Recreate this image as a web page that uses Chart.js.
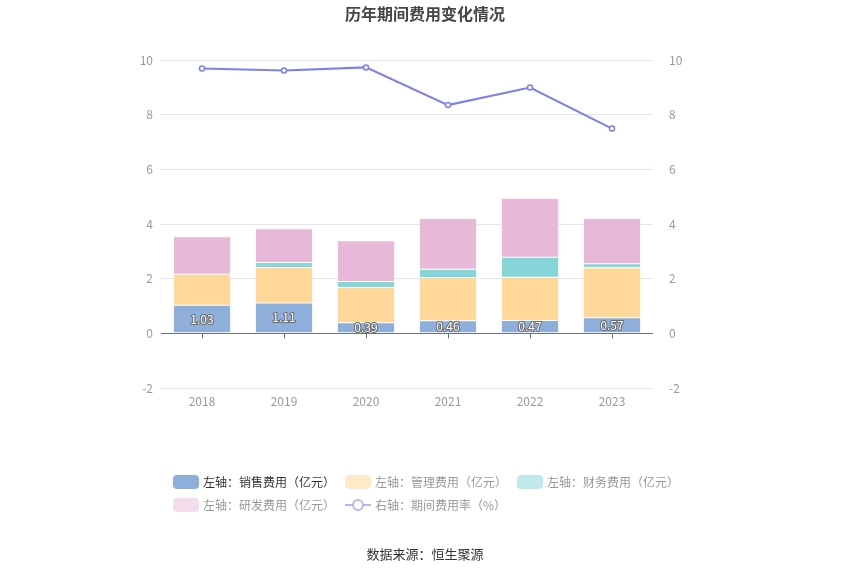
<!DOCTYPE html>
<html>
<head>
<meta charset="utf-8">
<script src="https://cdn.jsdelivr.net/npm/chart.js@4.4.1/dist/chart.umd.min.js"></script>
<style>
  html, body { margin: 0; padding: 0; background: #fff; }
  body { width: 850px; height: 575px; position: relative; overflow: hidden;
         font-family: 'Noto Sans CJK SC', 'Noto Sans', sans-serif; }
  #wrap { position: absolute; left: 0; top: 0; width: 850px; height: 575px; }
  #title { position: absolute; left: 0; width: 850px; top: 1px; text-align: center;
           font-size: 16px; font-weight: bold; color: #464646; }
  #source { position: absolute; left: 0; width: 850px; top: 544px; text-align: center;
            font-size: 13px; color: #333; }
  .lg { position: absolute; font-size: 12px; color: #999; line-height: 14px; white-space: nowrap; }
  .lg .box { display: inline-block; width: 26px; height: 14px; border-radius: 4px;
             vertical-align: top; margin-right: 4px; }
  .lg svg { vertical-align: top; margin-right: 4px; }
</style>
</head>
<body>
<div id="wrap"><canvas id="chart" width="850" height="575"></canvas></div>
<div id="title">历年期间费用变化情况</div>
<div id="legend"></div>
<div id="source">数据来源：恒生聚源</div>
<script>
// values
const YEARS = ['2018', '2019', '2020', '2021', '2022', '2023'];
const SALES = [1.03, 1.11, 0.39, 0.46, 0.47, 0.57];      // 销售费用 (亿元)
const ADMIN = [1.13, 1.30, 1.29, 1.57, 1.58, 1.83];      // 管理费用 (亿元)
const FINANCE = [-0.05, 0.18, 0.22, 0.31, 0.73, 0.15];   // 财务费用 (亿元)
const RND = [1.37, 1.24, 1.49, 1.86, 2.16, 1.65];        // 研发费用 (亿元)
const RATE = [9.69, 9.62, 9.73, 8.35, 8.99, 7.49];       // 期间费用率 (%)
const AXIS_TICKS = [-2, 0, 2, 4, 6, 8, 10];

const COLORS = {
  sales: '#8eaedc',
  admin: '#ffd899',
  finance: '#86d5d8',
  rnd: '#e7b8d8',
  rate: '#7b7ff0',
};

const FONT = "'Noto Sans CJK SC', 'Noto Sans', sans-serif";

// html legend, two rows like the original
const LEGEND = [
  { text: '左轴：销售费用（亿元）', color: '#8eaedc', textColor: '#333', x: 173, y: 475 },
  { text: '左轴：管理费用（亿元）', color: '#fee9c9', textColor: '#999', x: 345, y: 475 },
  { text: '左轴：财务费用（亿元）', color: '#c1e9eb', textColor: '#999', x: 517, y: 475 },
  { text: '左轴：研发费用（亿元）', color: '#f3dcec', textColor: '#999', x: 173, y: 498 },
  { text: '右轴：期间费用率（%）', line: '#b5b7f6', textColor: '#999', x: 345, y: 498 },
];
const legendEl = document.getElementById('legend');
LEGEND.forEach(item => {
  const d = document.createElement('div');
  d.className = 'lg';
  d.style.left = item.x + 'px';
  d.style.top = item.y + 'px';
  d.style.color = item.textColor;
  const icon = item.line
    ? `<svg width="26" height="14"><line x1="0" y1="7" x2="26" y2="7" stroke="${item.line}" stroke-width="2"/><circle cx="13" cy="7" r="5" fill="#fff" stroke="${item.line}" stroke-width="2"/></svg>`
    : `<span class="box" style="background:${item.color}"></span>`;
  d.innerHTML = icon + item.text;
  legendEl.appendChild(d);
});

// zero axis line ticks + value labels on the sales bars
const extras = {
  id: 'extras',
  afterDatasetsDraw(chart) {
    const { ctx, scales } = chart;
    const y0 = scales.y.getPixelForValue(0);
    ctx.save();
    ctx.strokeStyle = '#6e7079';
    ctx.lineWidth = 1;
    YEARS.forEach((_, i) => {
      const x = Math.round(scales.x.getPixelForValue(i)) + 0.5;
      ctx.beginPath();
      ctx.moveTo(x, y0);
      ctx.lineTo(x, y0 + 5);
      ctx.stroke();
    });
    const meta = chart.getDatasetMeta(0);
    ctx.font = '12px ' + FONT;
    ctx.textAlign = 'center';
    ctx.textBaseline = 'middle';
    ctx.lineJoin = 'round';
    meta.data.forEach((bar, i) => {
      const cy = (bar.y + bar.base) / 2;
      ctx.strokeStyle = '#6a6a6a';
      ctx.lineWidth = 2;
      ctx.strokeText(SALES[i].toFixed(2), bar.x, cy);
      ctx.fillStyle = '#fff';
      ctx.fillText(SALES[i].toFixed(2), bar.x, cy);
    });
    ctx.restore();
  }
};

const barDefaults = {
  type: 'bar',
  yAxisID: 'y',
  borderWidth: 0.5,
  borderColor: 'rgba(255,255,255,0.5)',
  borderSkipped: false,
  categoryPercentage: 0.7,
  barPercentage: 1,
  order: 2,
};

new Chart(document.getElementById('chart'), {
  data: {
    labels: YEARS,
    datasets: [
      { ...barDefaults, label: '销售费用', data: SALES, backgroundColor: COLORS.sales },
      { ...barDefaults, label: '管理费用', data: ADMIN, backgroundColor: COLORS.admin },
      { ...barDefaults, label: '财务费用', data: FINANCE, backgroundColor: COLORS.finance },
      { ...barDefaults, label: '研发费用', data: RND, backgroundColor: COLORS.rnd },
      {
        type: 'line',
        label: '期间费用率',
        data: RATE,
        yAxisID: 'y1',
        borderColor: COLORS.rate,
        borderWidth: 2,
        pointRadius: 2.5,
        pointBorderWidth: 1.5,
        pointBackgroundColor: '#fff',
        pointBorderColor: COLORS.rate,
        tension: 0,
        order: 1,
      },
    ]
  },
  options: {
    responsive: false,
    animation: false,
    layout: { padding: { top: 60, left: 0, right: 0, bottom: 0 } },
    plugins: {
      legend: { display: false },
      title: { display: false },
      tooltip: { enabled: false },
    },
    scales: {
      x: {
        stacked: true,
        grid: { display: false, drawTicks: false },
        border: { display: false },
        ticks: { color: '#999', font: { family: FONT, size: 12 }, padding: 6 },
        afterFit(scale) { scale.height = 187; }
      },
      y: {
        stacked: true,
        position: 'left',
        min: -2,
        max: 10,
        afterBuildTicks(scale) { scale.ticks = AXIS_TICKS.map(v => ({ value: v })); },
        grid: {
          color: c => (c.tick && c.tick.value === 0) ? '#6e7079' : '#e0e6f1',
          drawTicks: false,
        },
        border: { display: false },
        ticks: { color: '#999', font: { family: FONT, size: 12 }, padding: 8 },
        afterFit(scale) { scale.width = 161; }
      },
      y1: {
        position: 'right',
        min: -2,
        max: 10,
        afterBuildTicks(scale) { scale.ticks = AXIS_TICKS.map(v => ({ value: v })); },
        grid: { display: false },
        border: { display: false },
        ticks: { color: '#999', font: { family: FONT, size: 12 }, padding: 8 },
        afterFit(scale) { scale.width = 197; }
      }
    }
  },
  plugins: [extras]
});
</script>
</body>
</html>
